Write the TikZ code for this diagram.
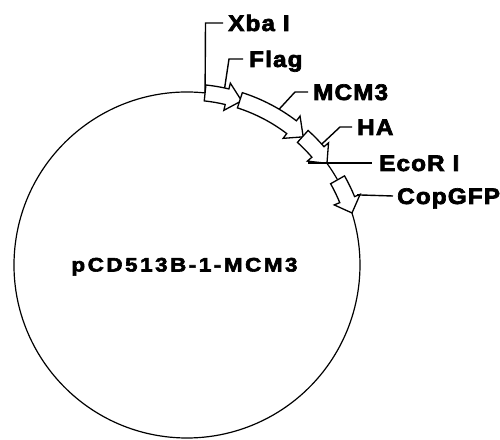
\documentclass[tikz,border=0pt]{standalone}
\usepackage{fontspec}
\newfontfamily\lblfont[FakeStretch=1.08,LetterSpace=5,BoldFeatures={FakeBold=3}]{Liberation Sans}
\newfontfamily\ttlfont[FakeStretch=1.15,LetterSpace=13,BoldFeatures={FakeBold=3}]{Liberation Sans}
\tikzset{
  ring/.style={line width=1.2pt, black},
  featarrow/.style={line width=1.3pt, black, fill=white, line join=miter},
  leader/.style={line width=1.4pt, black},
  lbl/.style={anchor=base west, inner sep=0pt, font=\lblfont\bfseries\fontsize{22.5}{24}\selectfont},
  ttl/.style={anchor=base, inner sep=0pt, font=\ttlfont\bfseries\fontsize{19.5}{21}\selectfont}
}
% #1 start angle, #2 head base angle, #3 tip angle
\newcommand\featarrowpath[3]{%
  \draw[featarrow] ([shift={(C)}]#1:181) arc[start angle=#1, end angle=#2, radius=181]
    -- ([shift={(C)}]#2:187) -- ([shift={(C)}]#3:173) -- ([shift={(C)}]#2:159)
    -- ([shift={(C)}]#2:165) arc[start angle=#2, end angle=#1, radius=165] -- cycle;}
\begin{document}
\begin{tikzpicture}[x=1pt,y=1pt]
\useasboundingbox (0,0) rectangle (500,439);
\coordinate (C) at (187,174);
% backbone
\draw[ring] ([shift={(C)}]84:173) arc[start angle=84, end angle=377.5, radius=173];
\draw[ring] ([shift={(C)}]29.5:173) arc[start angle=29.5, end angle=36.5, radius=173];
% features
\featarrowpath{84}{76.6}{71.6}
\featarrowpath{72.2}{52.8}{47.8}
\featarrowpath{48}{40.8}{36}
\featarrowpath{29.5}{22.2}{17.5}
% labels
\node[lbl] (xba) at (228,408) {Xba I};
\node[lbl] (flag) at (249,372) {Flag};
\node[lbl] (mcm) at (313,339) {MCM3};
\node[lbl] (ha) at (357,304) {HA};
\node[lbl] (eco) at (379,268) {EcoR I};
\node[lbl] (gfp) at (397,235) {CopGFP};
\node[ttl] (title) at (184.5,167.5) {pCD513B-1-MCM3};
% leader lines
\coordinate (xbaP) at ([shift={(C)}]84:173);
\draw[leader] (xbaP) -- (205.5,416) -- (223,416);
\coordinate (flagP) at ([shift={(C)}]78:181);
\draw[leader] (flagP) -- (229,380) -- (243,380);
\coordinate (mcmP) at ([shift={(C)}]59.4:181);
\draw[leader] (mcmP) -- (295,347) -- (308,347);
\coordinate (haP) at ([shift={(C)}]41.9:181);
\draw[leader] (haP) -- (340,312) -- (352,312);
\coordinate (ecoL) at (308,276);
\draw[leader] (ecoL) -- (372,276);
\coordinate (gfpP) at ([shift={(C)}]22.4:184);
\draw[leader] (gfpP) -- (393,243);
\end{tikzpicture}
\end{document}
